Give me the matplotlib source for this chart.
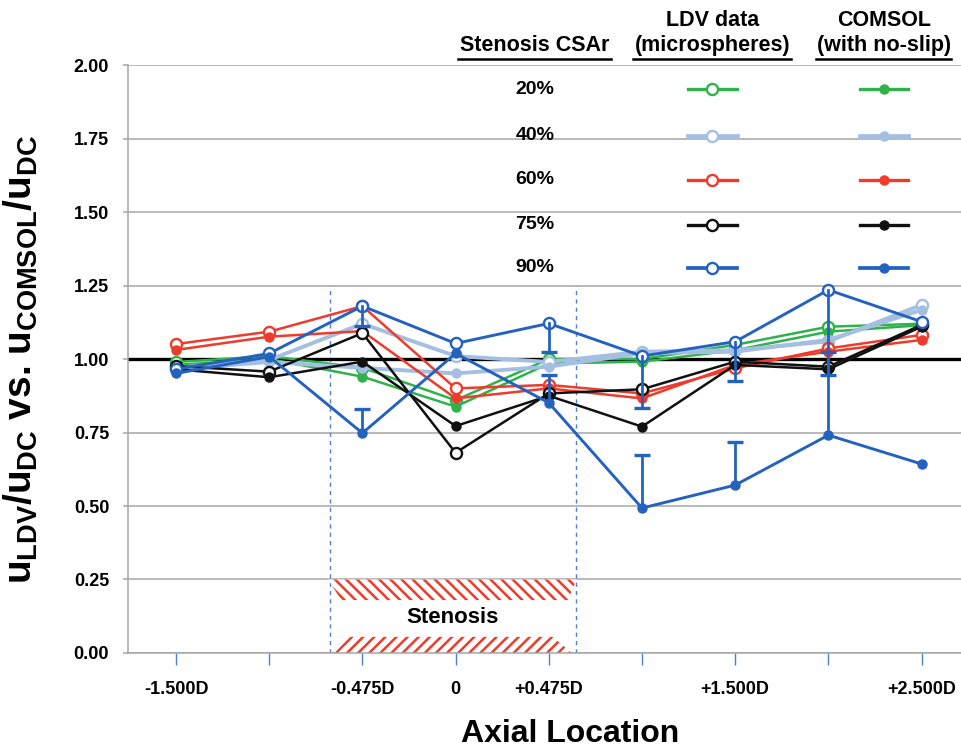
import matplotlib.pyplot as plt
from matplotlib.patches import Polygon

GREEN = "#2fb24a"
LIGHTBLUE = "#a4bfe2"
RED = "#ee3b2b"
BLACK = "#111111"
BLUE = "#2462c0"
GRID = "#a6a6a6"
TICKBLUE = "#4f7fcf"

plt.rcParams["font.family"] = ["Liberation Sans", "DejaVu Sans"]
plt.rcParams["font.weight"] = "bold"
plt.rcParams["mathtext.fontset"] = "custom"
plt.rcParams["mathtext.rm"] = "Liberation Sans:bold"
plt.rcParams["mathtext.it"] = "Liberation Sans:bold"
plt.rcParams["mathtext.bf"] = "Liberation Sans:bold"
plt.rcParams["hatch.color"] = RED
plt.rcParams["hatch.linewidth"] = 1.8

# axial locations (category axis), some unlabeled
LOCATIONS = ["-1.500D", "", "-0.475D", "0", "+0.475D", "", "+1.500D", "", "+2.500D"]
CSAR = ["20%", "40%", "60%", "75%", "90%"]

# normalized velocities
LDV_20 = [0.99, 1.01, 0.97, 0.86, 1.00, 1.00, 1.048, 1.110, 1.12]
COMSOL_20 = [0.98, 1.00, 0.94, 0.838, 0.985, 0.991, 1.03, 1.093, 1.115]
LDV_40 = [0.97, 0.997, 1.12, 1.01, 0.99, 1.025, 1.03, 1.06, 1.184]
COMSOL_40 = [0.965, 0.99, 0.97, 0.951, 0.974, 1.02, 1.025, 1.065, 1.167]
LDV_60 = [1.051, 1.093, 1.18, 0.90, 0.912, 0.883, 0.968, 1.036, 1.082]
COMSOL_60 = [1.031, 1.076, 1.095, 0.866, 0.90, 0.866, 0.98, 1.025, 1.065]
LDV_75 = [0.976, 0.957, 1.088, 0.681, 0.883, 0.897, 0.991, 0.974, 1.116]
COMSOL_75 = [0.965, 0.938, 0.991, 0.772, 0.875, 0.770, 0.98, 0.965, 1.11]
LDV_90 = [0.965, 1.019, 1.18, 1.053, 1.121, 1.010, 1.059, 1.235, 1.127]
COMSOL_90 = [0.951, 1.008, 0.748, 1.019, 0.851, 0.493, 0.571, 0.741, 0.643]
# one-sided error bars for 90% (LDV downwards, COMSOL upwards)
LDV_90_ERR = [0, 0, 0.068, 0, 0.096, 0.178, 0.133, 0.289, 0]
COMSOL_90_ERR = [0, 0, 0.081, 0, 0.095, 0.18, 0.148, 0.284, 0]

SERIES = [
    (LDV_20, COMSOL_20, GREEN, 1.8),
    (LDV_40, COMSOL_40, LIGHTBLUE, 2.8),
    (LDV_60, COMSOL_60, RED, 1.8),
    (LDV_75, COMSOL_75, BLACK, 1.8),
    (LDV_90, COMSOL_90, BLUE, 2.1),
]

fig = plt.figure(figsize=(9.62, 7.51), dpi=100)
ax = fig.add_axes([0.1331, 0.1305, 0.8669, 0.7829])
x = list(range(len(LOCATIONS)))

ax.set_xlim(-0.515, 8.434)
ax.set_ylim(0, 2.0)
ax.set_yticks([0, 0.25, 0.5, 0.75, 1.0, 1.25, 1.5, 1.75, 2.0])
ax.set_yticklabels([f"{v:.2f}" for v in ax.get_yticks()], fontsize=13, fontweight="bold")
ax.set_xticks(x)
ax.set_xticklabels(LOCATIONS, fontsize=13, fontweight="bold")
ax.tick_params(axis="y", direction="out", length=3.6, width=1.1, color=GRID, pad=10)
ax.tick_params(axis="x", direction="out", length=8.5, width=1.0, color=TICKBLUE, pad=12)
for side in ["top", "right"]:
    ax.spines[side].set_visible(False)
ax.spines["left"].set_color(GRID)
ax.spines["left"].set_linewidth(1.1)
ax.spines["bottom"].set_color(GRID)
ax.spines["bottom"].set_linewidth(1.1)
ax.grid(axis="y", color=GRID, linewidth=1.1)
ax.set_axisbelow(True)

ax.axhline(1.0, color="black", linewidth=2.4, zorder=2)

# stenosis region
for xv in [1.652, 4.292]:
    ax.plot([xv, xv], [0, 1.25], color=TICKBLUE, linewidth=1.0, linestyle=(0, (3, 3)), zorder=1)
top_band = Polygon([(1.634, 0.25), (4.298, 0.25), (4.204, 0.18), (1.771, 0.18)],
                   closed=True, facecolor="white", edgecolor=RED, linewidth=0, hatch="\\\\\\", zorder=1)
bot_band = Polygon([(1.699, 0.0), (4.244, 0.0), (4.043, 0.055), (1.86, 0.055)],
                   closed=True, facecolor="white", edgecolor=RED, linewidth=0, hatch="///", zorder=1)
ax.add_patch(top_band)
ax.add_patch(bot_band)
ax.text(2.97, 0.122, "Stenosis", ha="center", va="center", fontsize=16, fontweight="bold")

# data
for i, (ldv, com, color, lw) in enumerate(SERIES):
    z = 3 + i
    ax.plot(x, ldv, color=color, linewidth=lw, marker="o", markersize=8,
            markerfacecolor="white", markeredgecolor=color, markeredgewidth=1.7, zorder=z)
    ax.plot(x, com, color=color, linewidth=lw, marker="o", markersize=6.5,
            markerfacecolor=color, markeredgecolor=color, zorder=z)

# error bars on 90% series
for xi, yv, e in zip(x, LDV_90, LDV_90_ERR):
    if e:
        ax.plot([xi, xi], [yv, yv - e], color=BLUE, linewidth=2.0, zorder=7)
        ax.plot([xi], [yv - e], marker="_", markersize=11, markeredgewidth=2.4, color=BLUE, zorder=7)
for xi, yv, e in zip(x, COMSOL_90, COMSOL_90_ERR):
    if e:
        ax.plot([xi, xi], [yv, yv + e], color=BLUE, linewidth=2.0, zorder=7)
        ax.plot([xi], [yv + e], marker="_", markersize=11, markeredgewidth=2.4, color=BLUE, zorder=7)

# legend table drawn inside the plot area
LEG_TEXT_X = 3.85
LEG_LDV_X = (5.49, 6.02)
LEG_COM_X = (7.34, 7.85)
LEG_ROWS_Y = [1.918, 1.759, 1.609, 1.456, 1.310]
for label, (ldv, com, color, lw), yy in zip(CSAR, SERIES, LEG_ROWS_Y):
    ax.text(LEG_TEXT_X, yy, label, ha="center", va="center", fontsize=14, fontweight="bold", zorder=8)
    ax.plot(LEG_LDV_X, [yy, yy], color=color, linewidth=lw + 0.6, zorder=8)
    ax.plot([sum(LEG_LDV_X) / 2], [yy], marker="o", markersize=8, markerfacecolor="white",
            markeredgecolor=color, markeredgewidth=1.7, zorder=9)
    ax.plot(LEG_COM_X, [yy, yy], color=color, linewidth=lw + 0.6, zorder=8)
    ax.plot([sum(LEG_COM_X) / 2], [yy], marker="o", markersize=6.5, color=color, zorder=9)

hdr = dict(ha="center", va="center", fontsize=15.5, fontweight="bold", clip_on=False)
ax.text(LEG_TEXT_X, 2.068, "Stenosis CSAr", **hdr)
ax.text(sum(LEG_LDV_X) / 2, 2.153, "LDV data", **hdr)
ax.text(sum(LEG_LDV_X) / 2, 2.068, "(microspheres)", **hdr)
ax.text(sum(LEG_COM_X) / 2, 2.153, "COMSOL", **hdr)
ax.text(sum(LEG_COM_X) / 2, 2.068, "(with no-slip)", **hdr)
for x0, x1 in [(3.03, 4.67), (4.9, 6.6), (6.87, 8.32)]:
    ax.plot([x0, x1], [2.02, 2.02], color="black", linewidth=1.8, clip_on=False)

ax.set_ylabel(r"$u_{LDV}/u_{DC}$ vs. $u_{COMSOL}/u_{DC}$", fontsize=28, fontweight="bold")
ax.yaxis.set_label_coords(-0.105, 0.5)
fig.text(570 / 962, 1 - 734 / 751, "Axial Location", ha="center", va="center",
         fontsize=23, fontweight="bold")

fig.savefig("out.png", dpi=100)
